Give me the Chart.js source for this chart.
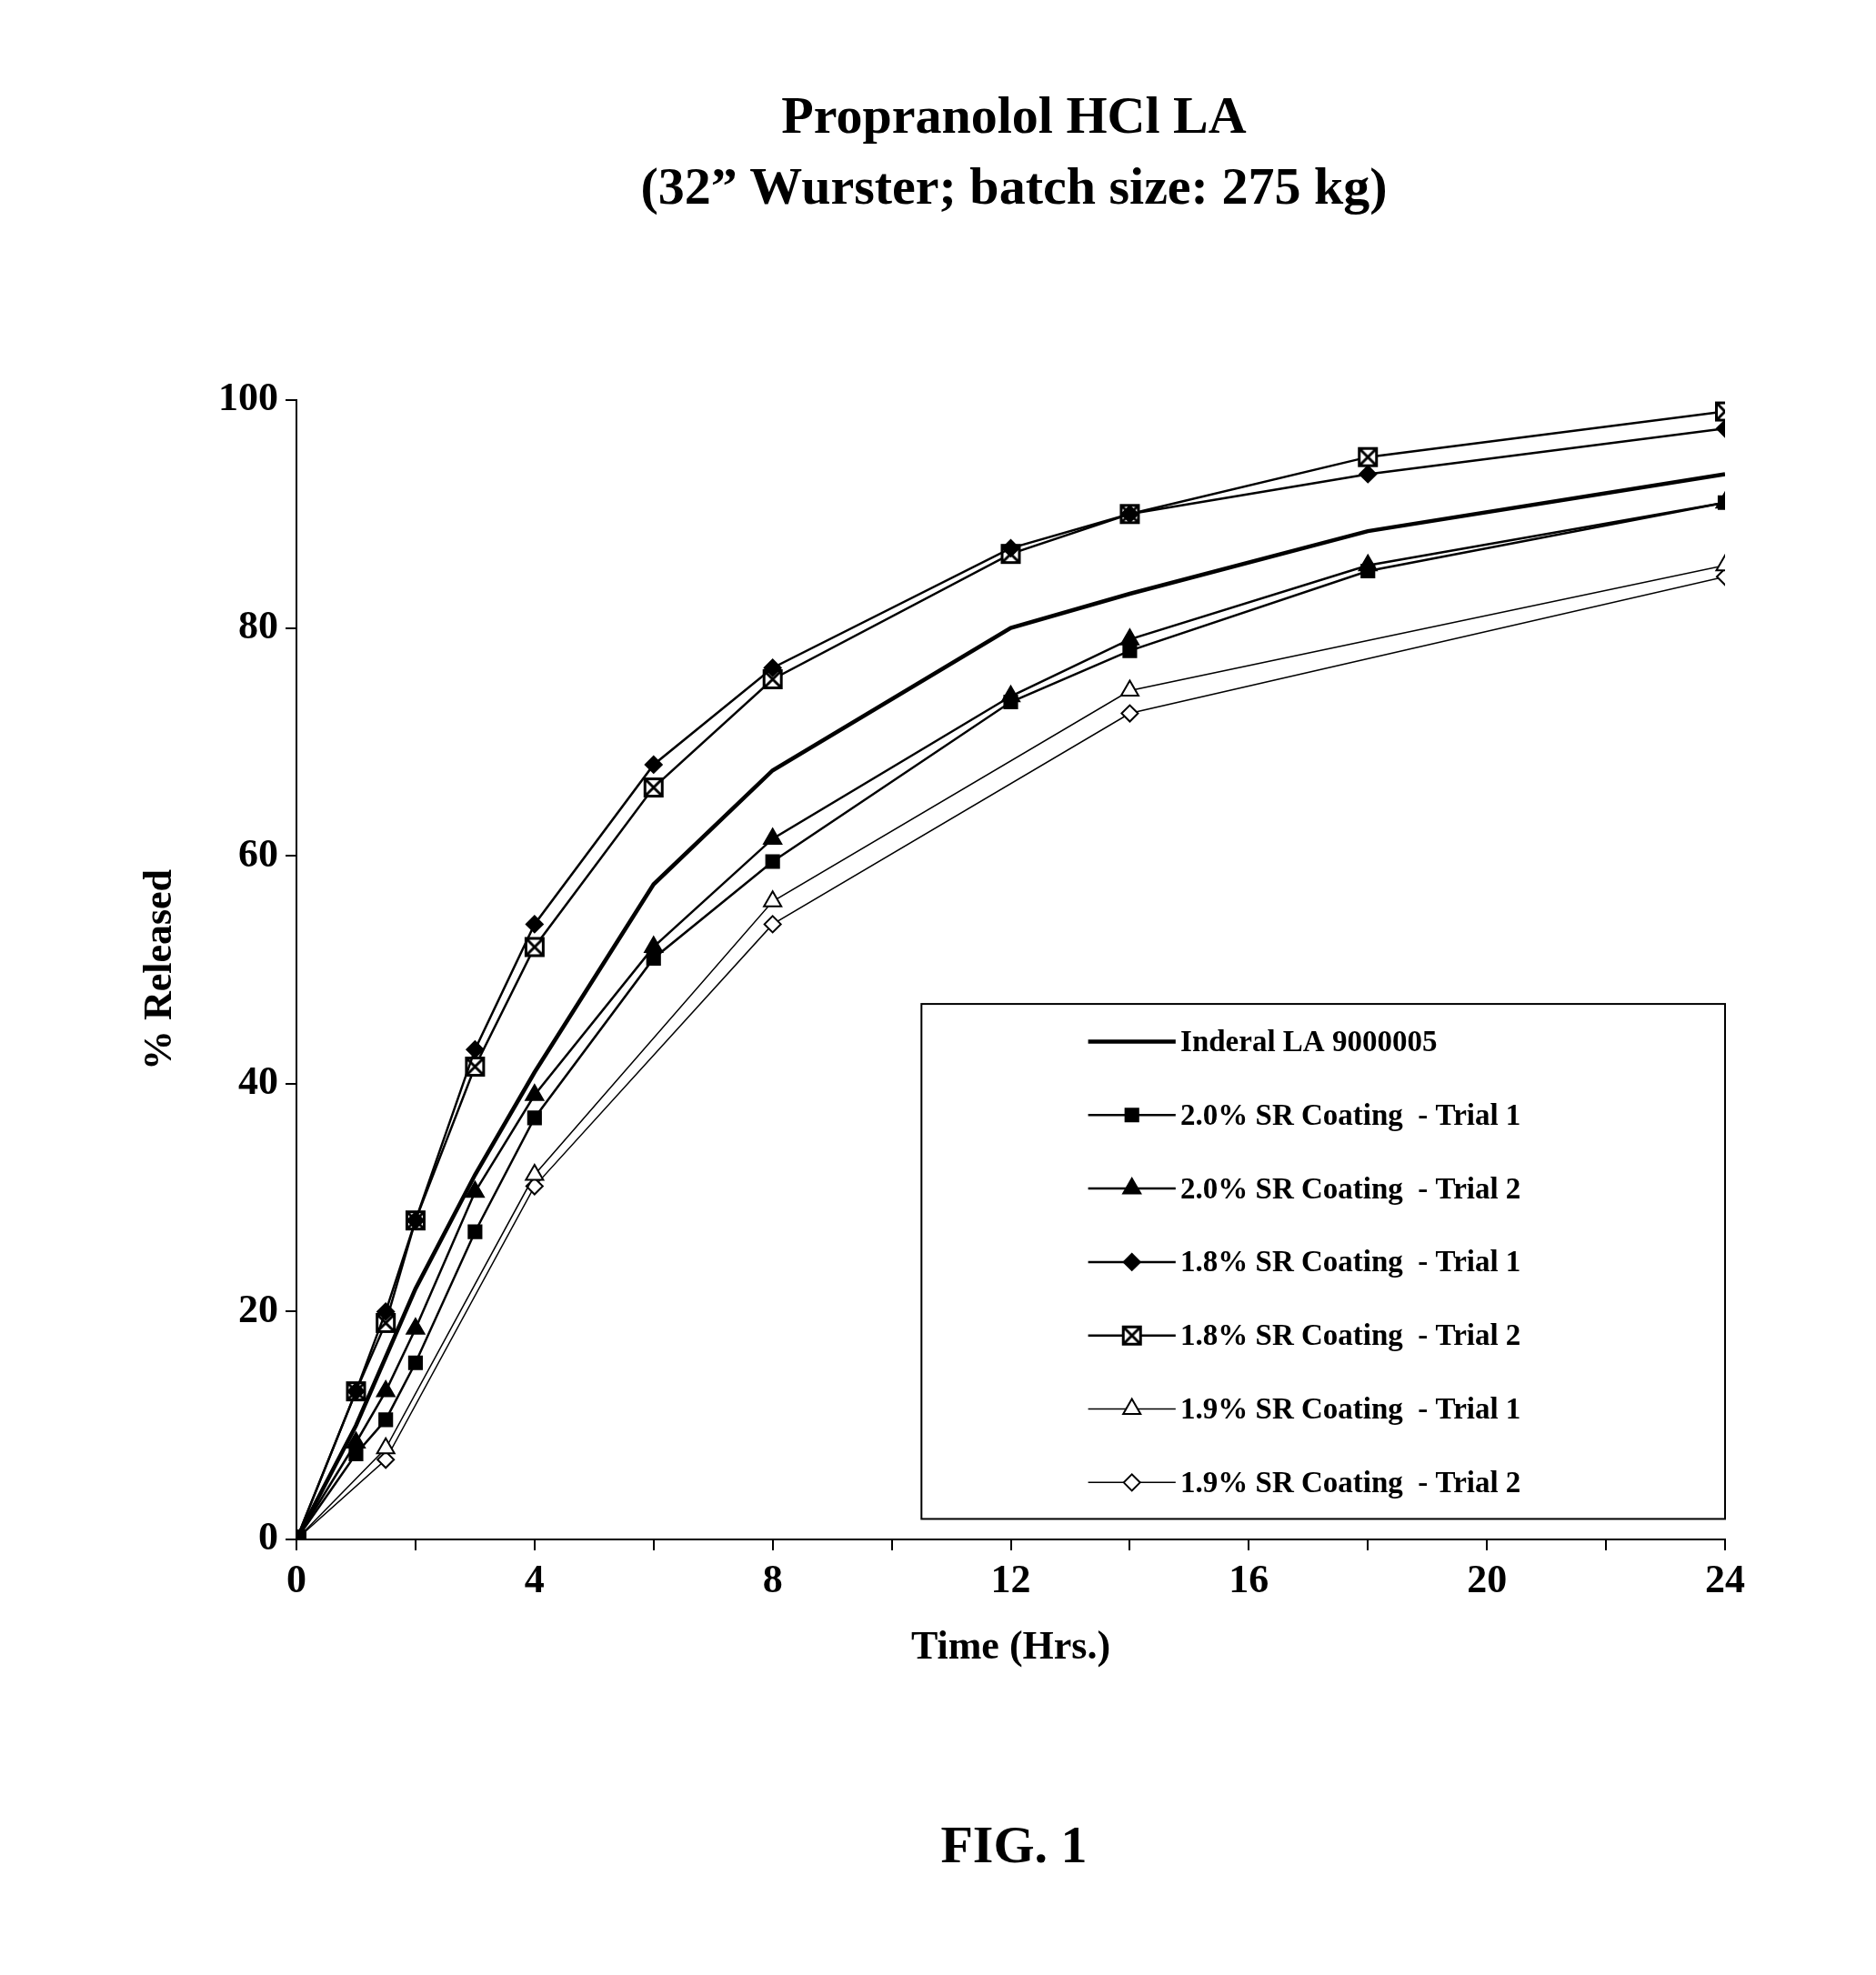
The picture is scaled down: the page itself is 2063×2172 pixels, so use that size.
<!DOCTYPE html>
<html><head><meta charset="utf-8">
<script src="https://cdn.jsdelivr.net/npm/chart.js@4"></script>
<style>
body{margin:0;background:#fff;font-family:"Liberation Serif",serif;}
#wrap{position:absolute;left:0;top:0;width:2063px;height:2172px;}
.t{position:absolute;left:0;width:2230px;text-align:center;font-weight:bold;color:#000;}
</style></head><body>
<div class="t" style="top:88px;font-size:58px;line-height:78px;">Propranolol HCl LA<br>(32” Wurster; batch size: 275 kg)</div>
<div id="wrap"><canvas id="c"></canvas></div>
<div class="t" style="top:1995px;font-size:58px;">FIG. 1</div>
<script>
// 데이터
const seriesNames = ['Inderal LA 9000005', '2.0% SR Coating  - Trial 1', '2.0% SR Coating  - Trial 2',
  '1.8% SR Coating  - Trial 1', '1.8% SR Coating  - Trial 2', '1.9% SR Coating  - Trial 1', '1.9% SR Coating  - Trial 2'];
const times = [0, 1, 1.5, 2, 3, 4, 6, 8, 12, 14, 18, 24];
const inderal = [0, 10, 16, 22, 32, 41, 57.5, 67.5, 80, 83, 88.5, 93.5];
const sr20t1 = [0, 7.5, 10.5, 15.5, 27, 37, 51, 59.5, 73.5, 78, 85, 91];
const sr20t2 = [0, 8.5, 13, 18.5, 30.5, 39, 52, 61.5, 74, 79, 85.5, 91];
const sr18t1 = [0, 13, 20, 28, 43, 54, 68, 76.5, 87, 90, 93.5, 97.5];
const sr18t2 = [0, 13, 19, 28, 41.5, 52, 66, 75.5, 86.5, 90, 95, 99];
const times19 = [0, 1.5, 4, 8, 14, 24];
const sr19t1 = [0, 8, 32, 56, 74.5, 85.5];
const sr19t2 = [0, 7, 31, 54, 72.5, 84.5];
const xTicks = [0, 4, 8, 12, 16, 20, 24];
const yTicks = [0, 20, 40, 60, 80, 100];

const pts = (xs, ys) => xs.map((x, i) => ({x: x, y: ys[i]}));

// X가 들어간 사각형 마커
const xsq = document.createElement('canvas');
xsq.width = 24; xsq.height = 24;
(() => {
  const g = xsq.getContext('2d');
  g.fillStyle = '#fff'; g.fillRect(2, 2, 20, 20);
  g.strokeStyle = '#000'; g.lineWidth = 3; g.strokeRect(2.5, 2.5, 19, 19);
  g.beginPath(); g.moveTo(4, 4); g.lineTo(20, 20); g.moveTo(20, 4); g.lineTo(4, 20); g.stroke();
})();

const styles = [
  {style: false, fill: '#000', r: 0, w: 4.5},
  {style: 'rect', fill: '#000', r: 10, w: 2.5},
  {style: 'triangle', fill: '#000', r: 11, w: 2.5},
  {style: 'rectRot', fill: '#000', r: 9, w: 2.5},
  {style: xsq, fill: '#fff', r: 12, w: 2.5},
  {style: 'triangle', fill: '#fff', r: 11, w: 1.5},
  {style: 'rectRot', fill: '#fff', r: 9, w: 1.5}
];
const allData = [pts(times, inderal), pts(times, sr20t1), pts(times, sr20t2), pts(times, sr18t1),
  pts(times, sr18t2), pts(times19, sr19t1), pts(times19, sr19t2)];

const datasets = allData.map((d, i) => ({
  label: seriesNames[i], data: d,
  borderColor: '#000', borderWidth: styles[i].w,
  pointStyle: styles[i].style, pointRadius: styles[i].r,
  pointBackgroundColor: styles[i].fill, pointBorderColor: '#000', pointBorderWidth: 2,
  tension: 0
}));

const font = {family: 'Liberation Serif', weight: 'bold', size: 44};

// 범례 상자 (플롯 안)
const legendBox = {
  id: 'legendBox',
  afterDatasetsDraw(chart) {
    const x = chart.scales.x, y = chart.scales.y, ctx = chart.ctx;
    const l = x.getPixelForValue(10.5), r = x.getPixelForValue(24);
    const t = y.getPixelForValue(47), b = y.getPixelForValue(1.8);
    ctx.save();
    ctx.fillStyle = '#fff'; ctx.fillRect(l, t, r - l, b - t);
    ctx.strokeStyle = '#000'; ctx.lineWidth = 2; ctx.strokeRect(l, t, r - l, b - t);
    ctx.font = 'bold 33px "Liberation Serif"';
    ctx.textBaseline = 'middle';
    seriesNames.forEach((name, i) => {
      const yy = y.getPixelForValue(43.7 - i * 6.45);
      const x0 = x.getPixelForValue(13.3), x1 = x.getPixelForValue(14.77);
      ctx.strokeStyle = '#000'; ctx.lineWidth = styles[i].w;
      ctx.beginPath(); ctx.moveTo(x0, yy); ctx.lineTo(x1, yy); ctx.stroke();
      const st = styles[i];
      if (st.style) {
        ctx.fillStyle = st.fill; ctx.lineWidth = 2;
        Chart.helpers.drawPoint(ctx, {pointStyle: st.style, radius: st.r, borderWidth: 2}, (x0 + x1) / 2, yy);
      }
      ctx.fillStyle = '#000';
      ctx.fillText(name, x.getPixelForValue(14.85), yy + 2);
    });
    ctx.restore();
  }
};

new Chart(document.getElementById('c'), {
  type: 'line',
  data: {datasets: datasets},
  plugins: [legendBox],
  options: {
    responsive: true, maintainAspectRatio: false, animation: false,
    layout: {padding: {left: 146, right: 166, top: 440, bottom: 329}},
    plugins: {legend: {display: false}, tooltip: {enabled: false}},
    scales: {
      x: {
        type: 'linear', min: 0, max: 24,
        afterFit: s => { s.height = 150; },
        afterBuildTicks: s => { s.ticks = [...Array(13).keys()].map(v => ({value: v * 2})); },
        ticks: {color: '#000', font: font, maxRotation: 0, padding: 8,
          callback: v => xTicks.includes(v) ? v : ''},
        grid: {display: true, drawOnChartArea: false, color: '#000', lineWidth: 2, tickLength: 12},
        border: {color: '#000', width: 2},
        title: {display: true, text: 'Time (Hrs.)', color: '#000', font: font, padding: {top: 10}}
      },
      y: {
        min: 0, max: 100,
        afterFit: s => { s.width = 180; },
        afterBuildTicks: s => { s.ticks = yTicks.map(v => ({value: v})); },
        ticks: {color: '#000', font: font, padding: 8},
        grid: {display: true, drawOnChartArea: false, color: '#000', lineWidth: 2, tickLength: 12},
        border: {color: '#000', width: 2},
        title: {display: true, text: '% Released', color: '#000', font: font, padding: {bottom: 20}}
      }
    }
  }
});
</script>
</body></html>
